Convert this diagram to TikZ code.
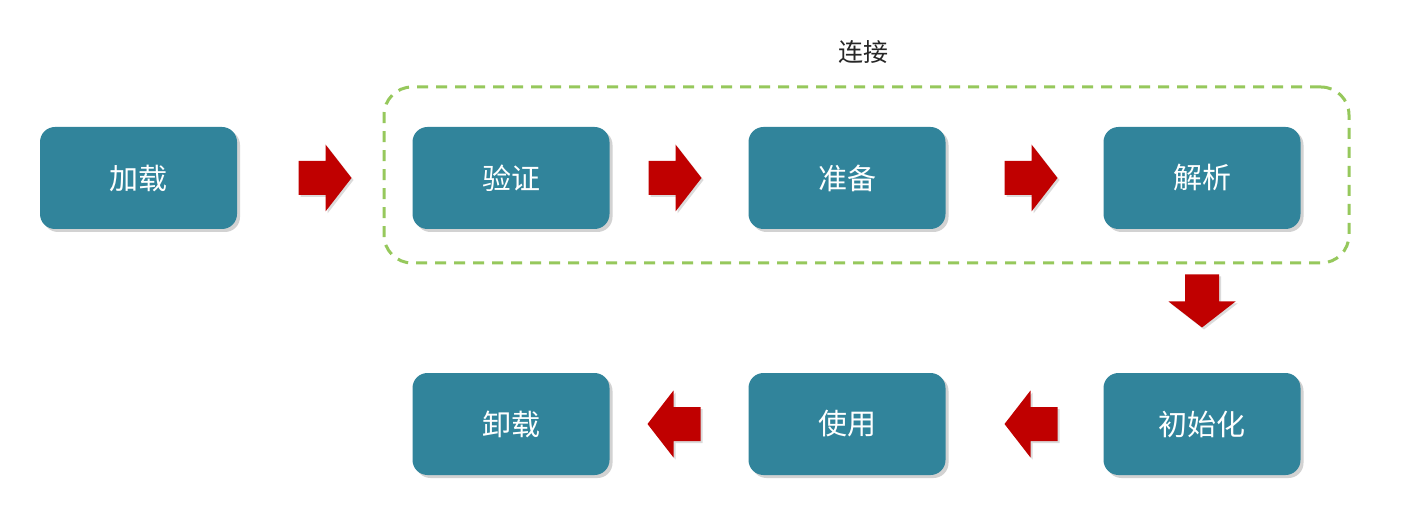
\documentclass[tikz,border=0pt]{standalone}
\usepackage{fontspec}
\setmainfont{Noto Sans CJK SC}
\usetikzlibrary{shadows}
\definecolor{boxteal}{RGB}{49,132,155}
\definecolor{arrowred}{RGB}{192,0,0}
\definecolor{framegreen}{RGB}{150,200,92}
\begin{document}
\begin{tikzpicture}[x=1pt,y=-1pt,
  stage/.style={rectangle, rounded corners=15pt, fill=boxteal,
    minimum width=197pt, minimum height=102pt, inner sep=0pt,
    text=white, font=\fontsize{29}{32}\selectfont,
    drop shadow={shadow xshift=3pt, shadow yshift=-3pt, opacity=0.25, fill=black!70}},
  redfill/.style={fill=arrowred,
    drop shadow={shadow xshift=2pt, shadow yshift=-2pt, opacity=0.2, fill=black!70}},
  blockarrow/.pic={\path[redfill] (-26.5,-17) -- (0.5,-17) -- (0.5,-33.5) -- (26.5,0)
      -- (0.5,33.5) -- (0.5,17) -- (-26.5,17) -- cycle;},
  groupframe/.style={draw=framegreen, line width=3pt, dash pattern=on 11pt off 8pt,
    rounded corners=28pt, minimum width=965pt, minimum height=176pt},
  grouplabel/.style={font=\fontsize{25}{28}\selectfont, text=black!85}
]
\fill[white] (0,0) rectangle (1410,518);
\useasboundingbox (0,0) rectangle (1410,518);

\node[groupframe] (link) at (866.5,175) {};
\node[grouplabel] (linklabel) at (863,52) {连接};

\node[stage] (load)    at (138.5,178) {加载};
\node[stage] (verify)  at (511,178)   {验证};
\node[stage] (prepare) at (847,178)   {准备};
\node[stage] (parse)   at (1202,178)  {解析};
\node[stage] (init)    at (1202,424)  {初始化};
\node[stage] (use)     at (847,424)   {使用};
\node[stage] (unload)  at (511,424)   {卸载};

\pic at (325,178) {blockarrow};
\pic at (675,178) {blockarrow};
\pic at (1031,178) {blockarrow};
\pic[rotate=-90] at (1202,301) {blockarrow};
\pic[rotate=180] at (1031,424) {blockarrow};
\pic[rotate=180] at (674,424) {blockarrow};
\end{tikzpicture}
\end{document}
